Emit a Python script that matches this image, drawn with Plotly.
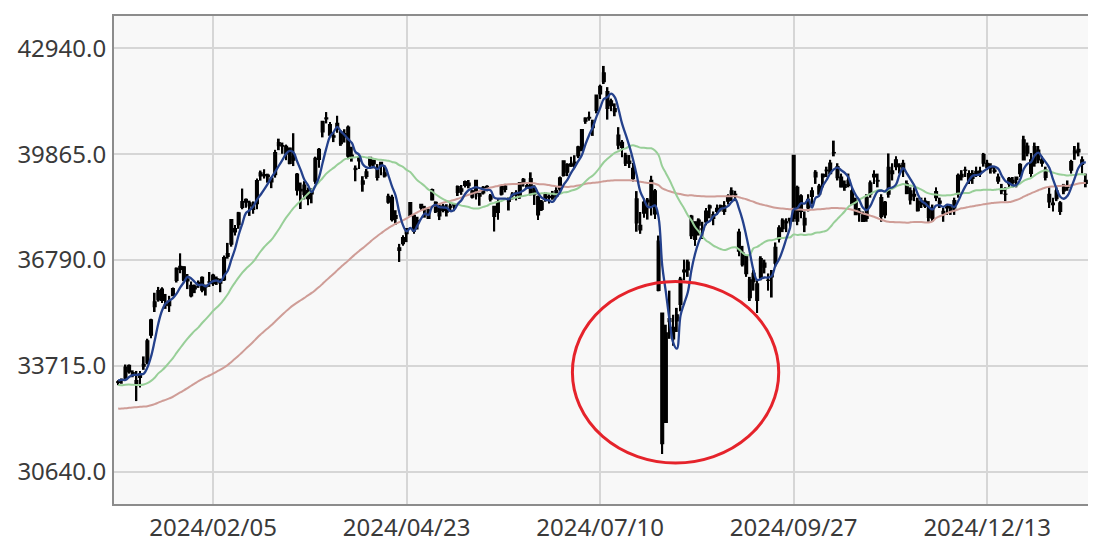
import plotly.graph_objects as go
import pandas as pd

# ---------------- data ----------------
dates = (
    ["2023-12-25", "2023-12-26", "2023-12-27", "2023-12-28", "2023-12-29"]
    + ["2024-01-%02d" % d for d in [4, 5, 9, 10, 11, 12, 15, 16, 17, 18, 19, 22, 23, 24, 25, 26, 29, 30, 31]]
    + ["2024-02-%02d" % d for d in [1, 2, 5, 6, 7, 8, 9, 13, 14, 15, 16, 19, 20, 21, 22, 26, 27, 28, 29]]
    + ["2024-03-%02d" % d for d in [1, 4, 5, 6, 7, 8, 11, 12, 13, 14, 15, 18, 19, 21, 22, 25, 26, 27, 28, 29]]
    + ["2024-04-%02d" % d for d in [1, 2, 3, 4, 5, 8, 9, 10, 11, 12, 15, 16, 17, 18, 19, 22, 23, 24, 25, 26, 30]]
    + ["2024-05-%02d" % d for d in [1, 2, 7, 8, 9, 10, 13, 14, 15, 16, 17, 20, 21, 22, 23, 24, 27, 28, 29, 30, 31]]
    + ["2024-06-%02d" % d for d in [3, 4, 5, 6, 7, 10, 11, 12, 13, 14, 17, 18, 19, 20, 21, 24, 25, 26, 27, 28]]
    + ["2024-07-%02d" % d for d in [1, 2, 3, 4, 5, 8, 9, 10, 11, 12, 16, 17, 18, 19, 22, 23, 24, 25, 26, 29, 30, 31]]
    + ["2024-08-%02d" % d for d in [1, 2, 5, 6, 7, 8, 9, 13, 14, 15, 16, 19, 20, 21, 22, 23, 26, 27, 28, 29, 30]]
    + ["2024-09-%02d" % d for d in [2, 3, 4, 5, 6, 9, 10, 11, 12, 13, 17, 18, 19, 20, 24, 25, 26, 27, 30]]
    + ["2024-10-%02d" % d for d in [1, 2, 3, 4, 7, 8, 9, 10, 11, 15, 16, 17, 18, 21, 22, 23, 24, 25, 28, 29, 30, 31]]
    + ["2024-11-%02d" % d for d in [1, 5, 6, 7, 8, 11, 12, 13, 14, 15, 18, 19, 20, 21, 22, 25, 26, 27, 28, 29]]
    + ["2024-12-%02d" % d for d in [2, 3, 4, 5, 6, 9, 10, 11, 12, 13, 16, 17, 18, 19, 20, 23, 24, 25, 26, 27, 30]]
    + ["2025-01-%02d" % d for d in [6, 7, 8, 9, 10, 14, 15, 16, 17, 20, 21, 22, 23, 24, 27, 28]]
)

opens = [
    33232, 33307, 33362, 33732, 33520,
    33193, 33486, 33704, 33812, 34605, 35434, 35634, 35944, 35498, 35594, 35758, 36201, 36607, 36591, 36181, 36057, 35954, 36132, 35914,
    36024, 36142, 36106, 36247, 36190, 36209, 36979, 37250, 37608, 37818, 38321, 38551, 38450, 38383, 38425, 39318, 39271, 39259, 39055,
    39269, 40201, 40113, 39871, 40043, 39790, 39288, 38844, 38964, 38570, 38843, 39082, 39710, 40511, 40917, 40725, 40358, 40590, 40506, 40462,
    40646, 39792, 39419, 39665, 39085, 39221, 39541, 39681, 39186, 39627, 39320, 38642, 38610, 38000, 37145, 37267, 37702, 38083, 38085, 37875, 38305,
    38270, 38000, 38532, 38466, 38355, 38353, 38225, 38323, 38427, 38751, 38855, 38953, 39020, 38797, 38734, 38723, 38736, 38926, 38653, 38347, 38172,
    38703, 38933, 38566, 38670, 38739, 38643, 39050, 38954, 39157, 38690, 38631, 38256, 38694, 38611, 38650, 38640, 38850, 39247, 39571, 39516,
    39605, 39814, 39963, 40825, 40932, 40630, 41133, 41616, 41967, 41680, 41412, 41190, 40418, 40208, 39829, 39660, 39449, 38565, 37799, 38151, 38480, 38368,
    38800, 37340, 35250, 32077, 35000, 34500, 35200, 35500, 36500, 36500, 37500, 37900, 37800, 37700, 37900, 38300, 38000, 38200, 38300, 38200, 38500,
    38800, 38700, 37600, 37000, 36900, 35700, 36400, 36100, 36300, 36700, 36200, 36300, 36700, 37400, 37700, 37900, 38000, 38000, 38900,
    38200, 38000, 38300, 38800, 39200, 38700, 39200, 39400, 39300, 39900, 39500, 39200, 38900, 39100, 38800, 38500, 38200, 38100, 38000, 38700, 39200, 39100,
    38600, 38100, 38700, 39300, 39700, 39500, 39600, 39000, 38800, 38700, 38500, 38500, 38500, 38300, 38000, 38600, 38500, 38200, 38300, 38300,
    38300, 38700, 39200, 39400, 39300, 39300, 39300, 39300, 39600, 39600, 39500, 39400, 39200, 38800, 38700, 39000, 39100, 39200, 39300, 39700, 40100,
    39700, 39600, 39700, 39700, 39400, 38700, 38400, 38800, 38200, 38800, 38900, 39400, 39900, 40000, 39700, 39100,
]

highs = [
    33299, 33350, 33755, 33755, 33586,
    33568, 33568, 33990, 34504, 35082, 35839, 36008, 36000, 35804, 35749, 35992, 36572, 36984, 36604, 36384, 36166, 36078, 36196, 36312,
    36075, 36441, 36389, 36311, 36250, 36924, 37287, 37963, 37804, 38188, 38865, 38576, 38513, 38491, 39156, 39388, 39426, 39297, 39187,
    39990, 40314, 40201, 40142, 40050, 40472, 39319, 39040, 39080, 38897, 38865, 39791, 40041, 40823, 41087, 40800, 40488, 40979, 40555, 40587,
    40697, 40080, 39536, 39832, 39224, 39432, 39774, 39702, 39575, 39627, 39532, 38715, 38685, 38236, 37258, 37512, 37703, 38475, 38124, 38046, 38412,
    38363, 38282, 38863, 38491, 38414, 38418, 38410, 38442, 38429, 38955, 38968, 39099, 39113, 38817, 39110, 38730, 38936, 38960, 38708, 38353, 38577,
    38968, 39000, 38606, 38760, 38817, 39049, 39170, 39036, 39336, 38959, 38663, 38533, 38764, 38700, 38796, 38904, 39216, 39667, 39600, 39788,
    39833, 40107, 40580, 40929, 41100, 40865, 41580, 41883, 42426, 41810, 41476, 41339, 40648, 40272, 39904, 39838, 39604, 38791, 38184, 38578, 38591, 39236,
    38850, 37500, 35250, 34911, 35900, 35200, 35400, 36300, 36800, 36800, 38100, 37900, 38000, 37900, 38300, 38400, 38200, 38400, 38400, 38500, 38700,
    38900, 38800, 37700, 37200, 36900, 36300, 36500, 36200, 36900, 36800, 36400, 36500, 37300, 37800, 38000, 38000, 38000, 39830, 38950,
    38700, 38200, 38700, 38900, 39400, 39000, 39300, 39500, 39700, 40257, 39600, 39300, 39100, 39300, 38900, 38600, 38300, 38200, 38700, 39100, 39400, 39300,
    38700, 38500, 39884, 39600, 39800, 39600, 39700, 39100, 38900, 38900, 38600, 38600, 38600, 38500, 38400, 38900, 38600, 38300, 38400, 38400,
    38600, 39300, 39400, 39500, 39400, 39400, 39500, 39500, 39900, 39700, 39600, 39500, 39300, 39000, 38900, 39200, 39200, 39200, 39600, 40398, 40200,
    39900, 40200, 40100, 39800, 39500, 38900, 38600, 38900, 38500, 39000, 39100, 39700, 40100, 40200, 39800, 39300,
]

lows = [
    33155, 33196, 33313, 33490, 33386,
    32693, 33090, 33600, 33759, 34519, 35279, 35580, 35540, 35371, 35281, 35742, 36136, 36406, 36175, 35945, 35705, 35828, 35980, 35853,
    35757, 36009, 36037, 36066, 35854, 36177, 36828, 37177, 37498, 37696, 38263, 38310, 38070, 38133, 38267, 39094, 39155, 39035, 38876,
    39182, 39979, 39875, 39689, 39569, 39518, 38664, 38271, 38551, 38378, 38436, 39000, 39467, 40351, 40756, 40389, 40214, 40485, 40105, 40201,
    39718, 39647, 39076, 39432, 38774, 39149, 39455, 39453, 39097, 39249, 39186, 38424, 37905, 37811, 36733, 37205, 37309, 38041, 37553, 37676, 38216,
    38020, 37991, 38524, 38154, 37950, 38175, 38054, 38200, 38208, 38648, 38683, 38896, 38872, 38576, 38549, 38367, 38692, 38788, 38489, 37617, 37958,
    38663, 38754, 38228, 38548, 38520, 38566, 38921, 38851, 38666, 38389, 37950, 38214, 38482, 38431, 38541, 38603, 38788, 39212, 39225, 39501,
    39468, 39749, 39963, 40744, 40835, 40394, 41048, 41466, 41900, 40867, 41112, 40965, 40005, 39772, 39520, 39463, 39069, 37611, 37550, 38020, 37964, 38081,
    37982, 35880, 31156, 32077, 34500, 34300, 34700, 35300, 36200, 36300, 37400, 37200, 37500, 37400, 37800, 38000, 37800, 38100, 38200, 38100, 38400,
    38500, 38500, 36900, 36600, 36300, 35600, 35900, 35250, 36200, 36400, 35900, 35700, 36600, 37300, 37600, 37600, 37700, 37900, 37800,
    38000, 37600, 38200, 38400, 39000, 38700, 38900, 39200, 39300, 39800, 39100, 38900, 38800, 38900, 38400, 38100, 37900, 37900, 37900, 38600, 39000, 38900,
    37900, 38000, 38600, 39100, 39400, 39300, 39200, 38700, 38400, 38500, 38200, 38300, 38300, 37900, 37900, 38500, 38300, 37900, 38100, 38100,
    38100, 38600, 39100, 39200, 39000, 39000, 39200, 39200, 39500, 39400, 39300, 39300, 39000, 38700, 38500, 38900, 38900, 38900, 39200, 39700, 39800,
    39200, 39500, 39600, 39500, 39100, 38300, 38200, 38500, 38100, 38700, 38800, 39300, 39700, 39800, 39300, 38900,
]

closes = [
    33255, 33305, 33681, 33540, 33464,
    33288, 33377, 33763, 34441, 35049, 35577, 35901, 35619, 35477, 35466, 35963, 36546, 36517, 36226, 36236, 35751, 36026, 36065, 36286,
    36011, 36158, 36354, 36160, 36119, 36863, 36897, 37963, 37703, 38157, 38487, 38470, 38363, 38262, 39098, 39233, 39239, 39208, 39166,
    39910, 40109, 40097, 40090, 39598, 39688, 38820, 38797, 38695, 38807, 38707, 39740, 40003, 40815, 40888, 40414, 40398, 40762, 40168, 40369,
    39803, 39838, 39451, 39773, 38992, 39347, 39773, 39581, 39442, 39523, 39232, 38471, 37962, 38079, 37068, 37438, 37552, 38460, 37628, 37934, 38405,
    38274, 38236, 38835, 38202, 38073, 38229, 38179, 38356, 38385, 38920, 38787, 39069, 38946, 38617, 39103, 38646, 38900, 38855, 38556, 38054, 38487,
    38923, 38837, 38490, 38703, 38683, 39038, 39134, 38876, 38720, 38814, 38102, 38482, 38570, 38633, 38596, 38804, 39173, 39667, 39341, 39583,
    39631, 40074, 40580, 40913, 40912, 40780, 41580, 41831, 42224, 41190, 41275, 41097, 40126, 40063, 39599, 39594, 39155, 37869, 37667, 38468, 38526, 39102,
    38126, 35909, 31458, 34675, 35089, 34831, 35025, 36233, 36442, 36727, 38063, 37389, 37951, 37670, 38211, 38364, 38110, 38288, 38372, 38362, 38648,
    38700, 38686, 37047, 36657, 36391, 36215, 36159, 35620, 36833, 36581, 36203, 36380, 37155, 37724, 37941, 37870, 37926, 39830, 37920,
    38652, 37809, 38552, 38636, 39333, 38938, 39278, 39381, 39606, 39911, 39181, 38911, 38982, 38955, 38412, 38105, 38143, 37913, 38606, 39027, 39277, 39081,
    38054, 38474, 39480, 39381, 39500, 39533, 39376, 38721, 38536, 38643, 38220, 38414, 38352, 38026, 38283, 38780, 38442, 38134, 38349, 38208,
    38513, 39248, 39276, 39395, 39091, 39160, 39367, 39372, 39849, 39470, 39457, 39364, 39081, 38813, 38701, 39161, 39037, 39130, 39568, 40281, 39894,
    39307, 40083, 39981, 39605, 39190, 38474, 38444, 38572, 38451, 38902, 38904, 39646, 39958, 39931, 39565, 39016,
]

# closes before the first shown day (Sep 1 - Dec 22, 2023), used only to start the moving averages
warmup_closes = [
    32711, 32939, 33036, 33241, 32991, 32607, 32467, 32776, 32707, 33168, 33533, 33242, 33023, 32571, 32402, 32679, 32315, 32372, 31872, 31858,
    31760, 31238, 30527, 31075, 30995, 31746, 31937, 32494, 32316, 31660, 32041, 32043, 31431, 31259, 31020, 31062, 31270, 30602, 30992, 30697, 30859,
    31602, 31950, 32709, 32272, 32167, 32647, 32568, 32586, 32696, 33520, 33425, 33586, 33389, 33354, 33452, 33626, 33448, 33409, 33322, 33487,
    33432, 33232, 32776, 33446, 32859, 32308, 32792, 32844, 32927, 32686, 32971, 32759, 33219, 33676, 33141, 33170,
]

ma_windows = [75, 25, 5]
ma_colors = {75: "#cf9d97", 25: "#98cf98", 5: "#24418c"}
ma_widths = {75: 2, 25: 2, 5: 2.3}

tick_dates = ["2024-02-05", "2024-04-23", "2024-07-10", "2024-09-27", "2024-12-13"]
y_ticks = [30640.0, 33715.0, 36790.0, 39865.0, 42940.0]

# highlighted region (red ellipse): bar-index span and price span
circle_x = [124.4, 180.9]
circle_y = [30893, 36167]

# ---------------- figure ----------------
x = list(range(len(dates)))
all_closes = pd.Series(warmup_closes + closes, dtype=float)
ma = {w: all_closes.rolling(w).mean().iloc[len(warmup_closes):].tolist() for w in ma_windows}

body_base = [min(o, c) for o, c in zip(opens, closes)]
body_len = [abs(c - o) for o, c in zip(opens, closes)]
wick_len = [h - l for h, l in zip(highs, lows)]

tick_idx = [dates.index(d) for d in tick_dates]
tick_text = [d.replace("-", "/") for d in tick_dates]

fig = go.Figure()
# wicks (high-low)
fig.add_trace(go.Bar(
    x=x, y=wick_len, base=lows, width=0.5,
    marker=dict(color="#000000", line=dict(width=0)),
    hoverinfo="skip", showlegend=False,
))
# bodies (open-close)
fig.add_trace(go.Bar(
    x=x, y=body_len, base=body_base, width=0.78,
    marker=dict(color="#000000", line=dict(color="#000000", width=1.2)),
    hoverinfo="skip", showlegend=False,
))
for w in ma_windows:
    fig.add_trace(go.Scatter(
        x=x, y=ma[w], mode="lines",
        line=dict(color=ma_colors[w], width=ma_widths[w], shape="spline", smoothing=1.1),
        hoverinfo="skip", showlegend=False,
    ))

fig.add_shape(type="circle", xref="x", yref="y",
              x0=circle_x[0], x1=circle_x[1], y0=circle_y[0], y1=circle_y[1],
              line=dict(color="#e5232b", width=3))

fig.update_layout(
    width=1088, height=544,
    margin=dict(l=106, r=6, t=7, b=48),
    paper_bgcolor="#ffffff", plot_bgcolor="#f8f8f8",
    font=dict(family="Noto Sans", size=24, color="#3a3a3a"),
    showlegend=False, barmode="overlay",
)
fig.update_xaxes(
    range=[-1.14, 265.6], tickmode="array", tickvals=tick_idx, ticktext=tick_text,
    showgrid=True, gridcolor="#d6d6d6", gridwidth=1.5, zeroline=False,
    showline=True, linecolor="#8c8c8c", linewidth=2, mirror=True,
    ticks="", ticklabelstandoff=1,
)
fig.update_yaxes(
    range=[29704, 43876], tickmode="array", tickvals=y_ticks, tickformat=".1f",
    showgrid=True, gridcolor="#d6d6d6", gridwidth=1.5, zeroline=False,
    showline=True, linecolor="#8c8c8c", linewidth=2, mirror=True,
    ticks="", ticklabelstandoff=1,
)

fig.write_html("out.html")
